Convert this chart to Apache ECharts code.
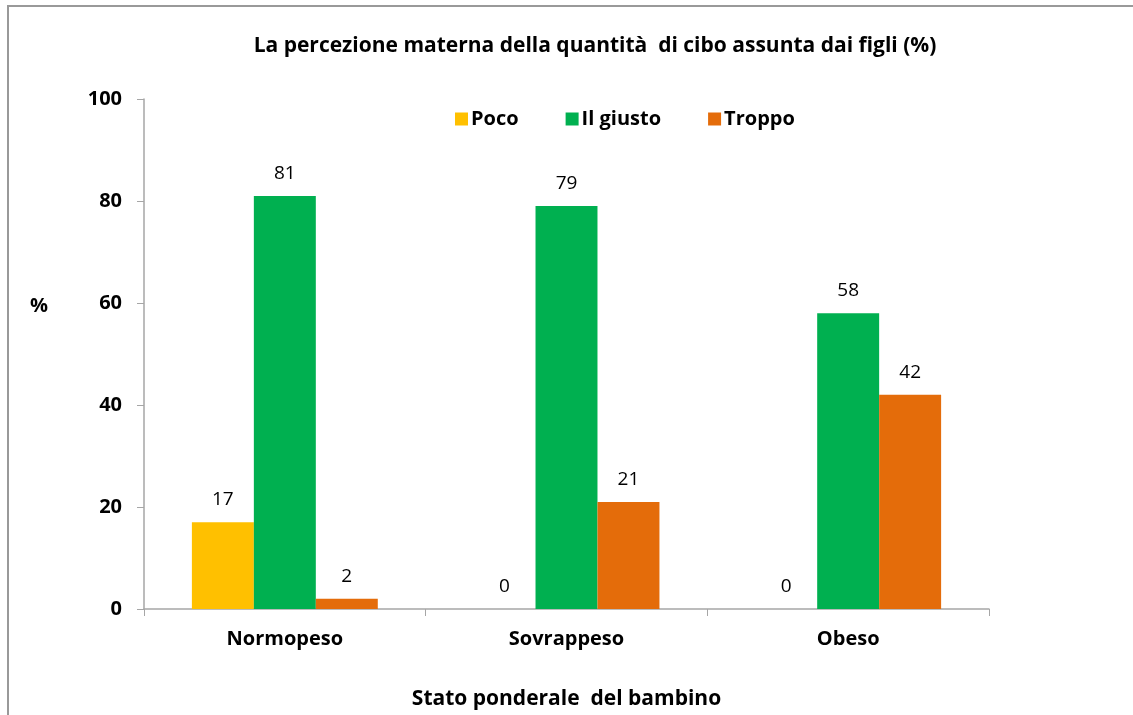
<!DOCTYPE html>
<html>
<head>
<meta charset="utf-8">
<script src="https://cdn.jsdelivr.net/npm/echarts@6/dist/echarts.min.js"></script>
<style>
  html, body { margin: 0; padding: 0; background: #fff; }
  #main { width: 1133px; height: 715px; }
</style>
</head>
<body>
<div id="main"></div>
<script>
var categories = ['Normopeso', 'Sovrappeso', 'Obeso'];
var seriesNames = ['Poco', 'Il giusto', 'Troppo'];
var poco = [17, 0, 0];
var giusto = [81, 79, 58];
var troppo = [2, 21, 42];
var colors = ['#FFC000', '#00B050', '#E46C0A'];

var font = '"Open Sans", "Noto Sans", sans-serif';

function makeSeries(name, values) {
    return {
        name: name,
        type: 'bar',
        data: values,
        barGap: '0%',
        barCategoryGap: '34%',
        label: {
            show: true,
            position: 'top',
            distance: 13,
            fontFamily: font,
            fontSize: 19,
            color: '#000'
        }
    };
}

var myChart = echarts.init(document.getElementById('main'));
var option = {
    backgroundColor: '#fff',
    color: colors,
    animation: false,
    title: {
        text: 'La percezione materna della quantità  di cibo assunta dai figli (%)',
        left: 590,
        textAlign: 'center',
        top: 31,
        textStyle: { fontFamily: font, fontSize: 21, fontWeight: 'bold', color: '#000' }
    },
    legend: {
        top: 104,
        left: 450,
        itemWidth: 13,
        itemHeight: 13,
        itemGap: 47,
        icon: 'rect',
        textStyle: { fontFamily: font, fontSize: 20, fontWeight: 'bold', color: '#000', padding: [0, 0, 0, -2] },
        data: seriesNames
    },
    grid: { left: 144, right: 144, top: 99, bottom: 103 },
    xAxis: {
        type: 'category',
        data: categories,
        name: 'Stato ponderale  del bambino',
        nameLocation: 'middle',
        nameGap: 80,
        nameTextStyle: { fontFamily: font, fontSize: 21, fontWeight: 'bold', color: '#000' },
        axisLine: { lineStyle: { color: '#a6a6a6', width: 1.5 } },
        axisTick: { show: true, length: 7, alignWithLabel: false, lineStyle: { color: '#a6a6a6' } },
        axisLabel: { margin: 20, fontFamily: font, fontSize: 20, fontWeight: 'bold', color: '#000' }
    },
    yAxis: {
        type: 'value',
        min: 0,
        max: 100,
        interval: 20,
        splitLine: { show: false },
        axisLine: { show: true, lineStyle: { color: '#a6a6a6', width: 1.5 } },
        axisTick: { show: true, length: 7, lineStyle: { color: '#a6a6a6' } },
        axisLabel: { margin: 22, fontFamily: font, fontSize: 20, fontWeight: 'bold', color: '#000' }
    },
    graphic: [{
        type: 'rect',
        shape: { x: 8, y: 6, width: 1300, height: 900 },
        style: { fill: null, stroke: '#999', lineWidth: 2 },
        silent: true
    }, {
        type: 'text',
        left: 30,
        top: 296,
        style: { text: '%', fontFamily: font, fontSize: 20, fontWeight: 'bold', fill: '#000' },
        silent: true
    }],
    series: [
        makeSeries(seriesNames[0], poco),
        makeSeries(seriesNames[1], giusto),
        makeSeries(seriesNames[2], troppo)
    ]
};
myChart.setOption(option);
</script>
</body>
</html>
